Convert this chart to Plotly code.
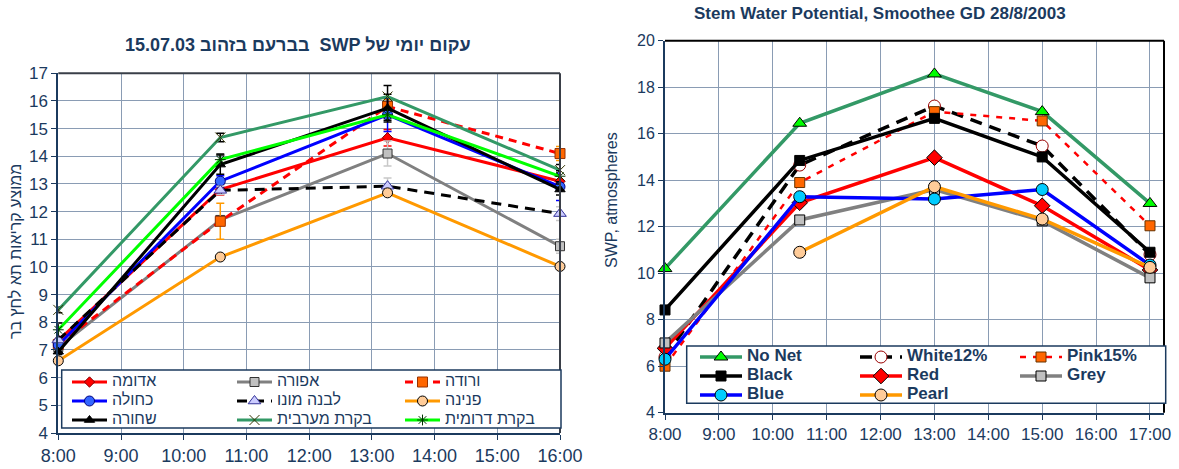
import plotly.graph_objects as go

# ---------------- data: left chart (15.07.03) ----------------
left_times = [8.0, 10.583, 13.25, 16.0]
left_ticks = [8, 9, 10, 11, 12, 13, 14, 15, 16]
left_ticktext = ["8:00", "9:00", "10:00", "11:00", "12:00", "13:00", "14:00", "15:00", "16:00"]

adumah = [7.34, 12.8, 14.67, 13.1]          # אדומה
afora = [7.1, 11.7, 14.1, 10.75]            # אפורה
vruda = [7.2, 11.65, 15.8, 14.1]            # ורודה
kchula = [7.18, 13.1, 15.5, 12.9]           # כחולה
levana = [7.36, 12.77, 12.92, 11.93]        # לבנה מונו
pnina = [6.61, 10.36, 12.68, 10.02]         # פנינה
shchora = [6.94, 13.7, 15.74, 12.8]         # שחורה
maaravit = [8.45, 14.68, 16.16, 13.5]       # בקרת מערבית
dromit = [7.73, 13.88, 15.5, 13.28]         # בקרת דרומית

err_adumah = [0.15, 0.2, 0.3, 0.2]
err_afora = [0.1, 0.15, 0.45, 0.25]
err_vruda = [0.1, 0.65, 0.25, 0.25]
err_kchula = [0.1, 0.2, 0.6, 0.5]
err_levana = [0.1, 0.15, 0.3, 0.25]
err_shchora = [0.1, 0.35, 0.5, 0.2]
err_maaravit = [0.1, 0.15, 0.4, 0.2]
err_dromit = [0.25, 0.2, 0.2, 0.2]

# ---------------- data: right chart (28/8/2003) ----------------
right_times = [8.0, 10.5, 13.0, 15.0, 17.0]
right_ticks = [8, 9, 10, 11, 12, 13, 14, 15, 16, 17]
right_ticktext = ["8:00", "9:00", "10:00", "11:00", "12:00", "13:00", "14:00", "15:00", "16:00", "17:00"]

no_net = [10.2, 16.45, 18.57, 16.95, 13.0]
white12 = [6.4, 14.65, 17.19, 15.47, 10.8]
pink15 = [6.0, 13.9, 16.95, 16.55, 12.04]
black = [8.42, 14.85, 16.66, 15.0, 10.9]
red = [6.77, 13.03, 14.97, 12.9, 10.14]
grey = [7.0, 12.29, 13.6, 12.25, 9.8]
blue = [6.3, 13.29, 13.19, 13.6, 10.35]
pearl = [None, 10.9, 13.72, 12.33, 10.25]

# ---------------- styling ----------------
NAVY = "#1b3a5e"
GRID = "#8a9cb4"
FRAME = "#3a3f48"
FONT = "Liberation Sans, Arial, DejaVu Sans, sans-serif"
W, H = 1179, 469


def px_x(p):
    return p / W


def px_y(p):
    return (H - p) / H


fig = go.Figure()


def left_trace(name, ys, errs, lcolor, dash, msym, msize, mfill, mline, ecolor, legend):
    fig.add_trace(go.Scatter(
        x=left_times, y=ys, name='<span style="font-size:16px">%s</span>' % name,
        mode="lines+markers", xaxis="x", yaxis="y", legend=legend,
        line=dict(color=lcolor, width=3, dash=dash),
        marker=dict(symbol=msym, size=msize, color=mfill, line=dict(color=mline, width=1)),
        error_y=dict(type="data", array=errs, visible=errs is not None, color=ecolor,
                     thickness=1.5, width=4),
        cliponaxis=False, hoverinfo="skip"))


left_trace("אדומה", adumah, err_adumah, "#ff0000", "solid", "diamond", 8, "#ff0000", "#800000", "#ff0000", "legend")
left_trace("אפורה", afora, err_afora, "#808080", "solid", "square", 9, "#c0c0c0", "#333333", "#c8c8c8", "legend2")
left_trace("ורודה", vruda, err_vruda, "#ff0000", "8px,6px", "square", 10, "#ff6600", "#993300", "#ff9900", "legend3")
left_trace("כחולה", kchula, err_kchula, "#0000ff", "solid", "circle", 10, "#3366ff", "#000080", "#0000ff", "legend")
left_trace("לבנה מונו", levana, err_levana, "#000000", "10px,7px", "triangle-up", 11, "#ccccff", "#333399", "#c8c8c8", "legend2")
left_trace("פנינה", pnina, None, "#ff9900", "solid", "circle", 10, "#ffcc99", "#000000", "#ff9900", "legend3")
left_trace("שחורה", shchora, err_shchora, "#000000", "solid", "triangle-up", 9, "#000000", "#000000", "#000000", "legend")
left_trace("בקרת מערבית", maaravit, err_maaravit, "#339966", "solid", "x-thin-open", 10, "#333300", "#333300", "#000000", "legend2")
left_trace("בקרת דרומית", dromit, err_dromit, "#00ff00", "solid", "asterisk-open", 9, "#003300", "#003300", "#000000", "legend3")


def right_trace(name, ys, lcolor, width, dash, msym, msize, mfill, mline, legend):
    fig.add_trace(go.Scatter(
        x=right_times, y=ys, name='<span style="font-size:17px">%s</span>' % name,
        mode="lines+markers", xaxis="x2", yaxis="y2", legend=legend,
        line=dict(color=lcolor, width=width, dash=dash),
        marker=dict(symbol=msym, size=msize, color=mfill, line=dict(color=mline, width=1)),
        connectgaps=False, cliponaxis=False, hoverinfo="skip"))


right_trace("No Net", no_net, "#339966", 3.5, "solid", "triangle-up", 12, "#00ff00", "#000000", "legend4")
right_trace("White12%", white12, "#000000", 3.5, "12px,8px", "circle", 12, "#ffffff", "#990000", "legend5")
right_trace("Pink15%", pink15, "#ff0000", 2.5, "6px,7px", "square", 10, "#ff6600", "#663300", "legend6")
right_trace("Black", black, "#000000", 3.5, "solid", "square", 10, "#000000", "#000000", "legend4")
right_trace("Red", red, "#ff0000", 3.5, "solid", "diamond", 12, "#ff0000", "#000000", "legend5")
right_trace("Grey", grey, "#808080", 3.5, "solid", "square", 10, "#c0c0c0", "#000000", "legend6")
right_trace("Blue", blue, "#0000ff", 3.5, "solid", "circle", 12, "#00ccff", "#000000", "legend4")
right_trace("Pearl", pearl, "#ff9900", 3.5, "solid", "circle", 12, "#ffcc99", "#000000", "legend5")

axis_common = dict(showgrid=True, gridcolor=GRID, gridwidth=1, ticks="outside", ticklen=5,
                   tickcolor=NAVY, showline=True, linecolor=NAVY, linewidth=2, mirror=False,
                   zeroline=False, fixedrange=True, automargin=False)


def leg(x, y, iw, bold=False):
    return dict(x=x, y=y, xanchor="left", yanchor="top", orientation="v",
                bgcolor="rgba(0,0,0,0)", borderwidth=0, itemwidth=iw, tracegroupgap=0,
                font=dict(family=FONT, size=11, color=NAVY, weight="bold" if bold else "normal"),
                itemclick=False, itemdoubleclick=False)


def frame(xd, yd, color):
    # top and right borders of a plot area (paper coords)
    return [
        dict(type="line", xref="paper", yref="paper", layer="above",
             x0=xd[0], x1=xd[1], y0=yd[1], y1=yd[1], line=dict(color=color, width=2)),
        dict(type="line", xref="paper", yref="paper", layer="above",
             x0=xd[1], x1=xd[1], y0=yd[0], y1=yd[1], line=dict(color=color, width=2)),
    ]


LX = [px_x(58.3), px_x(560)]
LY = [px_y(433), px_y(73.3)]
RX = [px_x(665), px_x(1164)]
RY = [px_y(412.7), px_y(40.7)]

fig.update_layout(
    width=W, height=H, margin=dict(l=0, r=0, t=0, b=0, autoexpand=False),
    paper_bgcolor="white", plot_bgcolor="white",
    font=dict(family=FONT, color=NAVY),
    showlegend=True,
    xaxis=dict(domain=LX, range=[8, 16], tickvals=left_ticks,
               ticktext=left_ticktext, tickfont=dict(size=18, color=NAVY), anchor="y", **axis_common),
    yaxis=dict(domain=LY, range=[4, 17], dtick=1, tick0=4,
               tickfont=dict(size=17, color=NAVY), anchor="x", **axis_common),
    xaxis2=dict(domain=RX, range=[8, 17.26], tickvals=right_ticks,
                ticktext=right_ticktext, tickfont=dict(size=17, color=NAVY), anchor="y2", **axis_common),
    yaxis2=dict(domain=RY, range=[4, 20], dtick=2, tick0=4,
                tickfont=dict(size=16, color=NAVY), anchor="x2", **axis_common),
    legend=leg(px_x(67), px_y(367.5), 35),
    legend2=leg(px_x(232), px_y(367.5), 35),
    legend3=leg(px_x(400), px_y(367.5), 35),
    legend4=leg(px_x(695), px_y(342.5), 42, True),
    legend5=leg(px_x(855), px_y(342.5), 42, True),
    legend6=leg(px_x(1015), px_y(342.5), 42, True),
    shapes=frame(LX, LY, FRAME) + frame(RX, RY, "#000000") + [
        dict(type="rect", xref="paper", yref="paper", layer="above",
             x0=px_x(61.7), x1=px_x(561), y0=px_y(428), y1=px_y(370),
             fillcolor="white", line=dict(color=NAVY, width=1.5)),
        dict(type="rect", xref="paper", yref="paper", layer="above",
             x0=px_x(686.7), x1=px_x(1165.7), y0=px_y(403.3), y1=px_y(346),
             fillcolor="white", line=dict(color=NAVY, width=1.5)),
    ],
    annotations=[
        dict(text="15.07.03 בברעם בזהוב  SWP עקום יומי של", x=px_x(298), y=px_y(45),
             xanchor="center", yanchor="middle",
             xref="paper", yref="paper", showarrow=False,
             font=dict(size=18, color=NAVY, weight="bold")),
        dict(text="Stem Water Potential, Smoothee GD 28/8/2003", x=px_x(880), y=px_y(14),
             xanchor="center", yanchor="middle",
             xref="paper", yref="paper", showarrow=False,
             font=dict(size=17, color=NAVY, weight="bold")),
        dict(text="ממוצע קריאות תא לחץ בר", x=px_x(15), y=px_y(252), textangle=-90,
             xanchor="center", yanchor="middle",
             xref="paper", yref="paper", showarrow=False, font=dict(size=16, color=NAVY)),
        dict(text="SWP, atmospheres", x=px_x(611), y=px_y(200), textangle=-90,
             xanchor="center", yanchor="middle",
             xref="paper", yref="paper", showarrow=False, font=dict(size=16, color=NAVY)),
    ],
)

fig.write_html("out.html")
